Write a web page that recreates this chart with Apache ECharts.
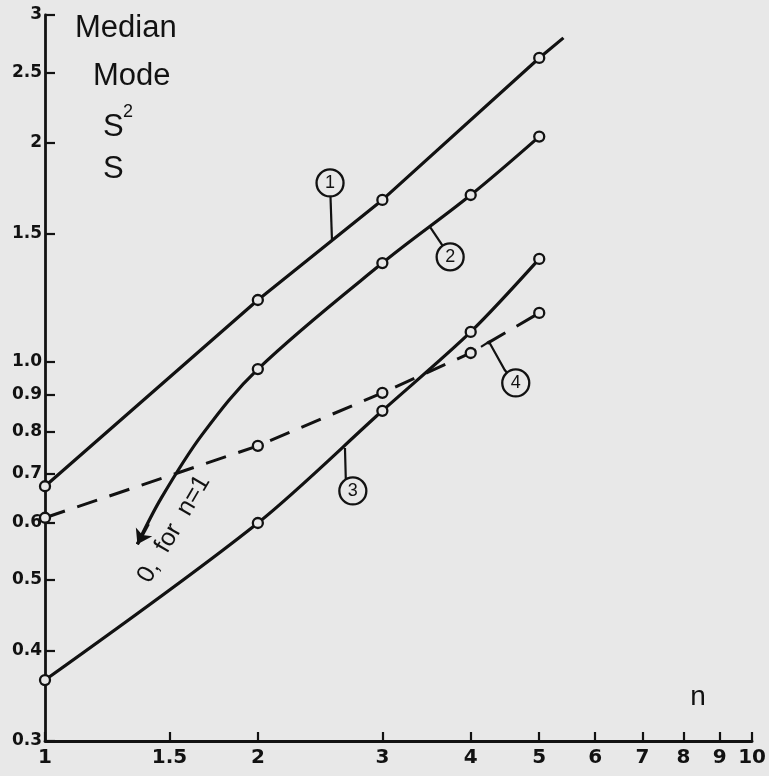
<!DOCTYPE html>
<html>
<head>
<meta charset="utf-8">
<script src="https://cdn.jsdelivr.net/npm/echarts@6/dist/echarts.min.js"></script>
<style>
html,body{margin:0;padding:0;background:#e8e8e8;}
#chart{width:769px;height:776px;}
</style>
</head>
<body>
<div id="chart"></div>
<script>
// ---- data ----
const xTicks = [1, 1.5, 2, 3, 4, 5, 6, 7, 8, 9, 10];
const xTickLabels = ['1', '1.5', '2', '3', '4', '5', '6', '7', '8', '9', '10'];
const yTicks = [0.3, 0.4, 0.5, 0.6, 0.7, 0.8, 0.9, 1, 1.5, 2, 2.5, 3];
const yTickLabels = ['0.3', '0.4', '0.5', '0.6', '0.7', '0.8', '0.9', '1.0', '1.5', '2', '2.5', '3'];

// curve 1 (Median)
const curve1N = [1, 2, 3, 5];
const curve1V = [0.673, 1.215, 1.669, 2.618];
const curve1TailN = [5.41];
const curve1TailV = [2.79];
// curve 2 (Mode)
const curve2N = [2, 3, 4, 5];
const curve2V = [0.976, 1.366, 1.695, 2.04];
const curve2ExtN = [1.351, 1.46, 1.667];
const curve2ExtV = [0.560, 0.648, 0.792];
// curve 3 (S^2)
const curve3N = [1, 2, 3, 4, 5];
const curve3V = [0.364, 0.599, 0.855, 1.098, 1.384];
// curve 4 (S), dashed
const curve4N = [1, 2, 3, 4, 5];
const curve4V = [0.609, 0.765, 0.905, 1.027, 1.166];

// annotation callouts: label, circle centre, leader path (data coords)
const calloutLabels = ['1', '2', '3', '4'];
const calloutCentres = [[2.530, 1.761], [3.741, 1.393], [2.725, 0.663], [4.632, 0.934]];
const calloutLeaders = [
  [[2.546, 1.468], [2.530, 1.761]],
  [[3.507, 1.530], [3.741, 1.393]],
  [[2.656, 0.760], [2.665, 0.672], [2.725, 0.663]],
  [[4.136, 1.047], [4.245, 1.064], [4.469, 0.973], [4.632, 0.934]]
];
const arrowFrom = [1.40, 0.597];
const arrowTo = [1.351, 0.560];

// ---- styling ----
const BG = '#e8e8e8';
const INK = '#121212';
const zip = (xs, ys) => xs.map((x, i) => [x, ys[i]]);
const noSym = (xs, ys) => xs.map((x, i) => ({ value: [x, ys[i]], symbol: 'none' }));
const markerStyle = { color: BG, borderColor: INK, borderWidth: 2.3, opacity: 1 };
const lineBase = { type: 'line', symbol: 'circle', symbolSize: 10, itemStyle: markerStyle, z: 3, animation: false };

function fmt(ticks, labels) {
  return function (v) {
    for (let i = 0; i < ticks.length; i++) {
      if (Math.abs(ticks[i] - v) < 1e-6) return labels[i];
    }
    return '';
  };
}

const chart = echarts.init(document.getElementById('chart'), null, { renderer: 'canvas' });

const option = {
  backgroundColor: BG,
  animation: false,
  grid: { left: 45, right: 12, top: 15, bottom: 35 },
  xAxis: {
    type: 'log', logBase: 10, min: 1, max: 10,
    axisLine: { lineStyle: { color: INK, width: 2.8 } },
    axisTick: { show: true, inside: true, length: 9, customValues: xTicks, lineStyle: { color: INK, width: 2.2 } },
    axisLabel: {
      customValues: xTicks, formatter: fmt(xTicks, xTickLabels), margin: 7,
      color: INK, fontFamily: 'DejaVu Sans', fontWeight: 'bold', fontSize: 20
    },
    splitLine: { show: false }, minorTick: { show: false }
  },
  yAxis: {
    type: 'log', logBase: 10, min: 0.3, max: 3,
    axisLine: { lineStyle: { color: INK, width: 2.8 } },
    axisTick: { show: true, inside: true, length: 10, customValues: yTicks, lineStyle: { color: INK, width: 2.2 } },
    axisLabel: {
      customValues: yTicks, formatter: fmt(yTicks, yTickLabels), margin: 3,
      color: INK, fontFamily: 'DejaVu Sans', fontWeight: 'bold', fontSize: 17
    },
    splitLine: { show: false }, minorTick: { show: false }
  },
  series: [
    Object.assign({}, lineBase, {
      name: 'Median',
      data: zip(curve1N, curve1V).concat(noSym(curve1TailN, curve1TailV)),
      lineStyle: { color: INK, width: 3.2 }
    }),
    Object.assign({}, lineBase, {
      name: 'Mode',
      smooth: 0.35,
      data: noSym(curve2ExtN, curve2ExtV).concat(zip(curve2N, curve2V)),
      lineStyle: { color: INK, width: 3.2 }
    }),
    Object.assign({}, lineBase, {
      name: 'S2',
      smooth: 0.3,
      data: zip(curve3N, curve3V),
      lineStyle: { color: INK, width: 3.2 }
    }),
    Object.assign({}, lineBase, {
      name: 'S',
      data: zip(curve4N, curve4V),
      lineStyle: { color: INK, width: 3, type: [21, 13] }
    }),
    {
      type: 'lines', coordinateSystem: 'cartesian2d', z: 3, animation: false,
      symbol: ['none', 'arrow'], symbolSize: 14,
      lineStyle: { color: INK, width: 3.2, opacity: 1 },
      data: [{ coords: [arrowFrom, arrowTo] }]
    },
    {
      type: 'lines', coordinateSystem: 'cartesian2d', polyline: true, z: 4, animation: false,
      lineStyle: { color: INK, width: 2.2, opacity: 1 },
      data: calloutLeaders.map(c => ({ coords: c }))
    },
    {
      type: 'scatter', z: 6, animation: false,
      symbol: 'circle', symbolSize: 27,
      itemStyle: { color: BG, borderColor: INK, borderWidth: 2.3, opacity: 1 },
      label: {
        show: true, position: 'inside', color: INK,
        fontFamily: 'Liberation Sans', fontSize: 18,
        textBorderWidth: 0,
        formatter: p => calloutLabels[p.dataIndex]
      },
      emphasis: { disabled: true },
      data: calloutCentres
    }
  ],
  graphic: [
    { type: 'text', x: 75, y: 28, style: { text: 'Median', font: '31px "Liberation Sans"', fill: INK, textAlign: 'left', textVerticalAlign: 'middle' } },
    { type: 'text', x: 93, y: 76, style: { text: 'Mode', font: '31px "Liberation Sans"', fill: INK, textAlign: 'left', textVerticalAlign: 'middle' } },
    { type: 'text', x: 103, y: 127, style: { text: 'S', font: '31px "Liberation Sans"', fill: INK, textAlign: 'left', textVerticalAlign: 'middle' } },
    { type: 'text', x: 123, y: 112, style: { text: '2', font: '18px "Liberation Sans"', fill: INK, textAlign: 'left', textVerticalAlign: 'middle' } },
    { type: 'text', x: 103, y: 169, style: { text: 'S', font: '31px "Liberation Sans"', fill: INK, textAlign: 'left', textVerticalAlign: 'middle' } },
    { type: 'text', x: 698, y: 697, style: { text: 'n', font: '28px "Liberation Sans"', fill: INK, textAlign: 'center', textVerticalAlign: 'middle' } },
    { type: 'text', x: 174, y: 529, rotation: 1.04, style: { text: '0,  for  n=1', font: '25px "Liberation Sans"', fill: INK, textAlign: 'center', textVerticalAlign: 'middle' } }
  ]
};
chart.setOption(option);
</script>
</body>
</html>
